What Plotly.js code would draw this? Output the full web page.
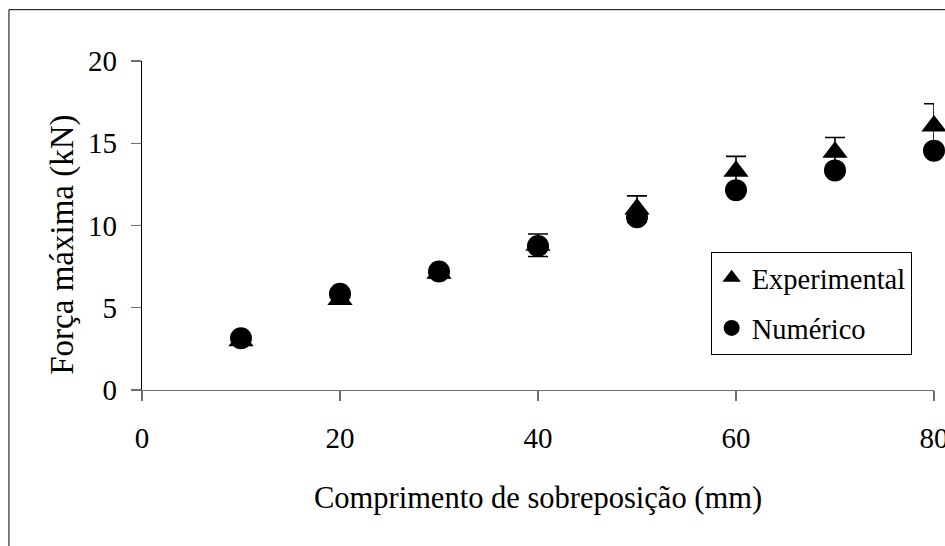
<!DOCTYPE html>
<html>
<head>
<meta charset="utf-8">
<script src="https://cdn.plot.ly/plotly-3.0.1.min.js"></script>
<style>
  html, body { margin: 0; padding: 0; background: #ffffff; overflow: hidden; }
  #chart { width: 945px; height: 546px; }
</style>
</head>
<body>
<div id="chart"></div>
<script>
// Data
const comprimento = [10, 20, 30, 40, 50, 60, 70, 80];            // mm
const experimental = [3.0, 5.5, 7.1, 8.8, 11.0, 13.3, 14.45, 16.05]; // kN
const experimentalErr = [0.2, 0.25, 0.3, 0.68, 0.8, 0.9, 0.9, 1.35];
const numerico = [3.15, 5.85, 7.2, 8.75, 10.5, 12.15, 13.35, 14.55]; // kN
const xTicks = [0, 20, 40, 60, 80];
const yTicks = [0, 5, 10, 15, 20];

const FONT = '"Liberation Serif", "Times New Roman", serif';

const traces = [
  {
    type: 'scatter', mode: 'markers', name: 'Experimental',
    x: comprimento, y: experimental,
    legendgroup: 'exp',
    cliponaxis: false,
    marker: { symbol: 'triangle-up', size: 22, color: '#000000' },
    error_y: { type: 'data', array: experimentalErr, visible: true,
               color: '#000000', thickness: 1.6, width: 10 }
  },
  {
    type: 'scatter', mode: 'markers', name: 'Numérico',
    x: comprimento, y: numerico,
    legendgroup: 'num',
    cliponaxis: false,
    marker: { symbol: 'circle', size: 22, color: '#000000' }
  }
];

const layout = {
  width: 945, height: 546,
  paper_bgcolor: '#ffffff', plot_bgcolor: '#ffffff',
  margin: { l: 142, r: 11, t: 61, b: 156, pad: 0 },
  font: { family: FONT, color: '#000000', size: 29 },
  showlegend: true,
  legend: {
    x: 0.718, y: 0.42, xanchor: 'left', yanchor: 'top',
    bgcolor: '#ffffff', bordercolor: '#000000', borderwidth: 1,
    font: { family: FONT, size: 28.5, color: '#000000' },
    traceorder: 'grouped', tracegroupgap: 10
  },
  xaxis: {
    range: [0, 80], tickvals: xTicks, ticktext: xTicks.map(String),
    showgrid: false, zeroline: false,
    showline: true, linecolor: '#6e6e6e', linewidth: 1.3,
    ticks: 'outside', ticklen: 10, tickcolor: '#6e6e6e', tickwidth: 1.3,
    ticklabelstandoff: 12, ticklabeloverflow: 'allow',
    tickfont: { family: FONT, size: 29, color: '#000000' },
    title: { text: 'Comprimento de sobreposição (mm)', standoff: 33,
             font: { family: FONT, size: 30.5, color: '#000000' } },
    automargin: false
  },
  yaxis: {
    range: [0, 20], tickvals: yTicks, ticktext: yTicks.map(String),
    showgrid: false, zeroline: false,
    showline: true, linecolor: '#000000', linewidth: 1.3,
    ticks: 'outside', ticklen: 10, tickcolor: '#6e6e6e', tickwidth: 1.3,
    ticklabelstandoff: 8, ticklabeloverflow: 'allow',
    tickfont: { family: FONT, size: 29, color: '#000000' },
    automargin: false
  },
  annotations: [
    {
      text: 'Força máxima (kN)', textangle: -90,
      xref: 'paper', yref: 'paper', x: -0.1004, y: 0.443,
      xanchor: 'center', yanchor: 'middle', showarrow: false,
      font: { family: FONT, size: 33, color: '#000000' }
    }
  ],
  shapes: [
    {
      type: 'rect', xref: 'paper', yref: 'paper',
      x0: -0.168, x1: 1.2, y0: -0.7, y1: 1.156,
      line: { color: '#000000', width: 1 }, fillcolor: 'rgba(0,0,0,0)',
      layer: 'below'
    }
  ]
};

Plotly.newPlot('chart', traces, layout, { staticPlot: true, displayModeBar: false });
</script>
</body>
</html>
